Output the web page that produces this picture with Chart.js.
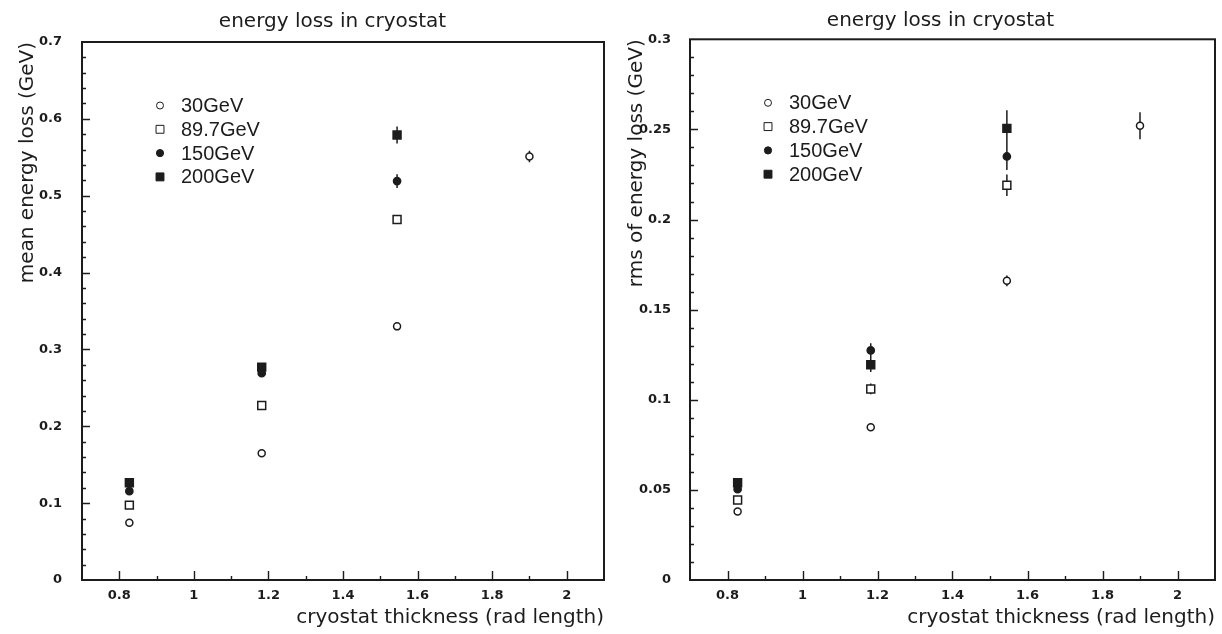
<!DOCTYPE html>
<html>
<head>
<meta charset="utf-8">
<title>energy loss in cryostat</title>
<script src="https://cdn.jsdelivr.net/npm/chart.js@4.4.1/dist/chart.umd.min.js"></script>
<style>
  html, body { margin: 0; padding: 0; background: #fff; overflow: hidden; width: 1222px; height: 634px; }
  canvas { position: absolute; top: 0; }
  #meanChart { left: 0; }
  #rmsChart { left: 612px; }
</style>
</head>
<body>
<canvas id="meanChart" width="665" height="634"></canvas>
<canvas id="rmsChart" width="657" height="634"></canvas>
<script>
// cryostat thickness in radiation lengths
const thickness = [0.827, 1.182, 1.545, 1.9];
const beams = ['30GeV', '89.7GeV', '150GeV', '200GeV'];

const xTicks = [0.8, 1, 1.2, 1.4, 1.6, 1.8, 2];
const xTickLabels = ['0.8', '1', '1.2', '1.4', '1.6', '1.8', '2'];

// mean energy loss (GeV) and its error
const mean30 = [0.0745, 0.165, 0.330, 0.551];
const mean30Err = [0.003, 0.003, 0.003, 0.0075];
const mean89 = [0.0974, 0.227, 0.469];
const mean89Err = [0.003, 0.004, 0.005];
const mean150 = [0.1156, 0.269, 0.519];
const mean150Err = [0.003, 0.004, 0.009];
const mean200 = [0.1265, 0.277, 0.579];
const mean200Err = [0.003, 0.004, 0.011];
const meanTicks = [0, 0.1, 0.2, 0.3, 0.4, 0.5, 0.6, 0.7];
const meanTickLabels = ['0', '0.1', '0.2', '0.3', '0.4', '0.5', '0.6', '0.7'];

// rms of energy loss (GeV) and its error
const rms30 = [0.038, 0.0848, 0.166, 0.252];
const rms30Err = [0.002, 0.002, 0.003, 0.0075];
const rms89 = [0.0444, 0.106, 0.219];
const rms89Err = [0.002, 0.003, 0.006];
const rms150 = [0.0504, 0.1274, 0.235];
const rms150Err = [0.002, 0.004, 0.0075];
const rms200 = [0.054, 0.1194, 0.2506];
const rms200Err = [0.002, 0.004, 0.010];
const rmsTicks = [0, 0.05, 0.1, 0.15, 0.2, 0.25, 0.3];
const rmsTickLabels = ['0', '0.05', '0.1', '0.15', '0.2', '0.25', '0.3'];

const ink = '#1c1c1c';
const textFont = 'DejaVu Sans';

// open circle, open square, full circle, full square
const markers = [
  { pointStyle: 'circle', radius: 3.5, fill: '#fff' },
  { pointStyle: 'rect', radius: 5.6, fill: '#fff' },
  { pointStyle: 'circle', radius: 3.6, fill: ink },
  { pointStyle: 'rect', radius: 5.6, fill: ink }
];

function points(ys) {
  return ys.map((y, i) => ({ x: thickness[i], y: y }));
}

// frame round the plot area with ticks pointing inwards
const framePlugin = {
  id: 'frame',
  beforeDatasetsDraw(chart, args, opts) {
    const { ctx, chartArea: a, scales: { x, y } } = chart;
    ctx.save();
    ctx.strokeStyle = ink;
    ctx.lineWidth = 1.4;
    ctx.beginPath();
    const nx = Math.round((x.max - x.min) / opts.xMinor);
    for (let i = 1; i < nx; i++) {
      const v = x.min + i * opts.xMinor;
      const major = x.ticks.some(t => Math.abs(t.value - v) < 1e-6);
      const px = Math.round(x.getPixelForValue(v)) + 0.5;
      ctx.moveTo(px, a.bottom);
      ctx.lineTo(px, a.bottom - (major ? 9 : 4));
    }
    const ny = Math.round((y.max - y.min) / opts.yMinor);
    for (let i = 1; i < ny; i++) {
      const v = y.min + i * opts.yMinor;
      const major = y.ticks.some(t => Math.abs(t.value - v) < 1e-6);
      const py = Math.round(y.getPixelForValue(v)) + 0.5;
      ctx.moveTo(a.left, py);
      ctx.lineTo(a.left + (major ? 8 : 4), py);
    }
    ctx.stroke();
    ctx.lineWidth = 2;
    ctx.strokeRect(a.left, a.top, a.right - a.left, a.bottom - a.top);
    ctx.restore();
  }
};

// vertical error bars from each dataset's "errors" array
const errorBarPlugin = {
  id: 'errorBars',
  beforeDatasetsDraw(chart) {
    const { ctx, scales: { x, y } } = chart;
    ctx.save();
    ctx.strokeStyle = ink;
    ctx.lineWidth = 1.5;
    ctx.beginPath();
    chart.data.datasets.forEach(ds => {
      ds.data.forEach((p, i) => {
        const e = ds.errors[i];
        const px = x.getPixelForValue(p.x);
        ctx.moveTo(px, y.getPixelForValue(p.y - e));
        ctx.lineTo(px, y.getPixelForValue(p.y + e));
      });
    });
    ctx.stroke();
    ctx.restore();
  }
};

// key drawn inside the plot area, top left
const keyPlugin = {
  id: 'key',
  afterDraw(chart, args, opts) {
    const { ctx, chartArea: a } = chart;
    ctx.save();
    ctx.font = '20px "Liberation Sans"';
    ctx.textBaseline = 'middle';
    ctx.textAlign = 'left';
    chart.data.datasets.forEach((ds, i) => {
      const yy = a.top + opts.dy + i * opts.step;
      ctx.fillStyle = ds.backgroundColor;
      ctx.strokeStyle = ink;
      Chart.helpers.drawPoint(ctx, {
        pointStyle: ds.pointStyle, radius: ds.pointRadius, borderWidth: 1.5, rotation: 0
      }, a.left + opts.markerX, yy);
      ctx.fillStyle = ink;
      ctx.fillText(ds.label, a.left + opts.textX, yy + 1);
    });
    ctx.restore();
  }
};

function makeChart(id, cfg) {
  const datasets = cfg.series.map((ys, i) => ({
    label: beams[i],
    data: points(ys),
    errors: cfg.errors[i],
    pointStyle: markers[i].pointStyle,
    pointRadius: markers[i].radius,
    backgroundColor: markers[i].fill,
    borderColor: ink,
    pointBorderWidth: 1.5,
    showLine: false
  }));

  return new Chart(document.getElementById(id), {
    type: 'scatter',
    data: { datasets: datasets },
    options: {
      responsive: false,
      animation: false,
      events: [],
      layout: { padding: 0 },
      plugins: {
        legend: { display: false },
        tooltip: { enabled: false },
        title: {
          display: true,
          text: 'energy loss in cryostat',
          color: ink,
          font: { family: textFont, size: 20, weight: 'normal' },
          padding: cfg.titlePadding
        },
        frame: { xMinor: 0.1, yMinor: cfg.yMinor },
        key: { markerX: 78, textX: 99, dy: 63.5, step: 23.8 }
      },
      scales: {
        x: {
          type: 'linear',
          min: 0.7,
          max: 2.1,
          grid: { display: false },
          border: { display: false },
          afterBuildTicks: ax => { ax.ticks = xTicks.map(v => ({ value: v })); },
          afterFit: ax => { ax.height = 54; },
          ticks: {
            autoSkip: false,
            maxRotation: 0,
            padding: 0,
            color: ink,
            font: { family: textFont, size: 13, weight: 'bold' },
            callback: (v, i) => xTickLabels[i]
          },
          title: {
            display: true,
            text: 'cryostat thickness (rad length)',
            align: 'end',
            color: ink,
            font: { family: textFont, size: 20 },
            padding: { top: 0, bottom: 4 }
          }
        },
        y: {
          type: 'linear',
          min: 0,
          max: cfg.yMax,
          grid: { display: false },
          border: { display: false },
          afterBuildTicks: ax => { ax.ticks = cfg.yTicks.map(v => ({ value: v })); },
          afterFit: ax => { ax.width = cfg.yWidth; },
          ticks: {
            padding: cfg.yTickPad,
            color: ink,
            font: { family: textFont, size: 13, weight: 'bold' },
            callback: (v, i) => cfg.yTickLabels[i]
          },
          title: {
            display: true,
            text: cfg.yTitle,
            align: 'end',
            color: ink,
            font: { family: textFont, size: 20 },
            padding: { top: cfg.yTitlePad, bottom: 0 }
          }
        },
        // empty strip right of the frame
        yPad: {
          type: 'linear',
          position: 'right',
          display: true,
          grid: { display: false },
          border: { display: false },
          ticks: { display: false },
          afterFit: ax => { ax.width = cfg.rightPad; }
        }
      }
    },
    plugins: [framePlugin, errorBarPlugin, keyPlugin]
  });
}

makeChart('meanChart', {
  series: [mean30, mean89, mean150, mean200],
  errors: [mean30Err, mean89Err, mean150Err, mean200Err],
  yMax: 0.7,
  yMinor: 0.02,
  yTicks: meanTicks,
  yTickLabels: meanTickLabels,
  yTitle: 'mean energy loss (GeV)',
  yWidth: 82,
  yTickPad: 12,
  yTitlePad: 16,
  rightPad: 61,
  titlePadding: { top: 10, bottom: 8 }
});

makeChart('rmsChart', {
  series: [rms30, rms89, rms150, rms200],
  errors: [rms30Err, rms89Err, rms150Err, rms200Err],
  yMax: 0.3,
  yMinor: 0.01,
  yTicks: rmsTicks,
  yTickLabels: rmsTickLabels,
  yTitle: 'rms of energy loss (GeV)',
  yWidth: 78,
  yTickPad: 11,
  yTitlePad: 13,
  rightPad: 54,
  titlePadding: { top: 9, bottom: 6.3 }
});
</script>
</body>
</html>
